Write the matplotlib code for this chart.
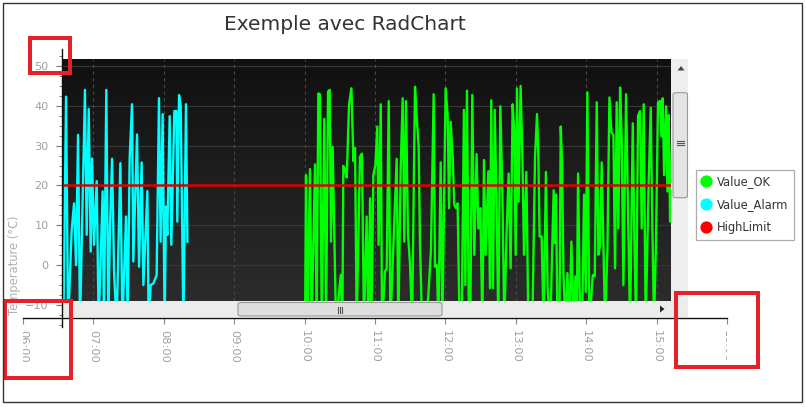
import numpy as np
import matplotlib
matplotlib.use('Agg')
import matplotlib.pyplot as plt
from matplotlib.colors import LinearSegmentedColormap
from matplotlib.patches import Rectangle, FancyBboxPatch, Polygon
from matplotlib.lines import Line2D
from matplotlib.ticker import MultipleLocator
from matplotlib.transforms import Bbox, TransformedBbox

# data: minutes after 06:00 and temperature (degC)
alarm_min = [34.4, 36.7, 38.4, 41.5, 43.5, 45.2, 46.9, 48.6, 52.8, 54.3, 56.0, 57.7,
             58.8, 60.5, 62.8, 64.5, 67.9, 69.0, 71.0, 72.7, 74.2, 75.9, 77.6, 79.8,
             83.0, 84.7, 87.8, 89.2, 90.9, 92.9, 94.0, 97.2, 98.9, 101.1, 102.6, 106.0,
             107.1, 108.8, 111.1, 113.9, 115.9, 117.3, 119.0, 120.7, 121.9, 123.0, 125.0,
             126.4, 129.0, 130.7, 131.5, 133.0, 134.4, 136.7, 138.9, 140.1]
alarm_val = [-15, 42.3, -15, 8.8, 15.5, 0, 32.7, -15, 44, 7.6, 39.2, 3.4,
             26.8, 5.1, 21.1, -15, 18.5, -15, 44, -15, 10.1, 26.7, -1.6, -15,
             25.6, -15, 12.2, -15, 26.8, 40.4, 0.9, 32.8, -0.4, 25.8, -5, 18.6,
             -15, -5, -4.6, -2.5, 41.9, 5.9, 37.9, -15, 14.7, 7.6, 37.4,
             5.1, 38.7, 38.7, 10.9, 42.7, 40, -15, 40.4, 5.9]

ok_min = [240.4, 241.2, 242.4, 244.6, 246.0, 248.9, 250.3, 251.7, 253.1, 254.6, 256.8,
          258.3, 260.0, 261.4, 262.5, 263.9, 265.4, 266.8, 270.8, 272.2, 273.0, 274.5,
          275.9, 277.9, 279.9, 281.6, 283.0, 284.4, 287.2, 288.9, 290.6, 292.9, 294.3,
          295.8, 296.9, 298.6, 300.3, 302.0, 303.1, 304.9, 306.0, 308.5, 310.0, 311.7,
          313.1, 318.5, 319.9, 321.9, 323.6, 325.0, 326.4, 328.1, 329.9, 331.6, 334.1,
          335.5, 337.2, 338.4, 340.1, 342.6, 345.4, 347.7, 350.0, 351.1, 352.8, 354.0,
          356.0, 357.4, 360.2, 361.9, 363.1, 364.5, 366.2, 367.6, 369.0, 370.4, 372.1,
          373.9, 375.8, 377.0, 378.4, 379.8, 381.2, 382.9, 384.6, 386.6, 388.1, 389.8,
          391.5, 392.9, 394.3, 396.6, 398.0, 399.1, 400.6, 402.0, 403.4, 405.1, 406.8,
          408.5, 410.2, 412.2, 413.9, 415.6, 417.3, 418.7, 419.9, 421.0, 422.4, 424.1,
          425.6, 427.0, 429.0, 430.7, 434.1, 436.4, 438.1, 439.2, 440.3, 442.0, 443.7,
          445.7, 447.1, 449.4, 452.3, 453.2, 454.3, 455.5, 457.2, 458.3, 459.4, 460.6,
          462.3, 464.0, 465.7, 467.4, 469.1, 470.8, 471.9, 473.1, 474.8, 476.5, 478.2,
          479.6, 481.0, 482.7, 485.6, 487.3, 489.0, 490.4, 491.8, 493.2, 494.7, 496.1,
          498.1, 499.8, 501.5, 503.2, 504.6, 506.0, 507.4, 508.9, 510.3, 511.7, 514.0,
          515.7, 517.4, 519.7, 521.1, 522.5, 524.2, 525.9, 527.3, 529.0, 530.7, 533.3,
          535.0, 536.1, 537.8, 539.5, 541.2, 542.9, 544.1, 545.2, 546.4, 548.1, 549.2,
          550.3, 551.5, 553.2]
ok_val = [-15, 22.6, -15, 24.1, -15, 25.3, -15, 43.1, 42.9, -15, 36.7,
          -15, 43.6, 44, 5.9, 29.7, 5.9, -15, -2.5, -15, 24.9, 24,
          22, 40.4, 44.4, 26.1, 29.4, -15, 27.2, 28, -15, 12.2, -15,
          16.8, -15, 22.6, 25.1, 34.8, 5.1, 40.4, -15, -1.6, -0.8, 41.2,
          -15, 26.7, -15, 24.3, 41.9, 5.9, 41.2, 8, 0, -15, 44.8,
          37.3, 29.7, 5.1, -15, -15, -8, 3.8, 42.9, -0.4, 0, -15,
          25.8, -15, 44.4, 37.7, 14.3, 36, 27.2, 15.1, 14.3, 15.5, -15,
          -15, 39, -5, 43.8, -7.5, -15, 42.7, 2.6, 27.9, 9.2, 14.3,
          -15, 26.4, 2.6, 23.6, -5.8, 41.4, -5.8, 39, 19.3, -15, 39.9,
          19.3, -15, 8.4, 23, -0.8, 40.4, 33.7, 2.6, 44.4, 15.9, 45,
          27.6, 2.6, 23.4, -15, -15, 27.2, 37.9, 27.8, 7.2, 7.2, -15,
          23.4, -5.8, -15, 18.8, 5.5, 17.7, -15, -15, 34.8, 26.2, -2,
          -15, -2, -15, 5.9, -15, -2.8, -15, 23, -15, -15, 17.7,
          -6.7, 43.4, -15, -2.5, -2.8, 40.9, 2.6, 4.7, 25.8, 4.3, -15,
          3.8, 42.1, 33.4, 32.7, -0.8, 40.9, 9.2, 44.6, 31.5, -5, 42.9,
          12.6, -15, 35.6, 5.9, -15, 37.5, 38.7, 9.2, 40.4, -15, 21.3,
          39.5, 15.1, -15, 5.9, 40.9, 41.2, 32.3, 41.9, 22.6, 39.9, 18.5,
          37.7, 10.9, 30]

high_limit = 20
hours = list(range(6, 17))
hour_labels = [f'{h:02d}:00' for h in hours]

W, H = 806, 407


def fb(x0, y0, x1, y1):
    # pixel box (top-left origin) -> figure fraction [left, bottom, width, height]
    return [x0 / W, 1 - y1 / H, (x1 - x0) / W, (y1 - y0) / H]


fig = plt.figure(figsize=(W / 100, H / 100), dpi=100)
fig.patch.set_facecolor('white')

# dark plot area
pa = fig.add_axes(fb(62, 59, 670.5, 301))
bg = LinearSegmentedColormap.from_list('bg', ['#101010', '#2c2c2c'])
pa.imshow(np.linspace(0, 1, 256).reshape(-1, 1), extent=(0, 1, 0, 1),
          transform=pa.transAxes, aspect='auto', cmap=bg, zorder=0)
for v in range(0, 60, 10):
    pa.axhline(v, color='#383838', lw=0.8, zorder=1)
for h in hours:
    pa.axvline(h, color='#484848', lw=0.8, ls=(0, (3, 3)), zorder=1)

ta = [6 + m / 60 for m in alarm_min]
to = [6 + m / 60 for m in ok_min]
pa.plot(ta, alarm_val, color='#00ffff', lw=1.7, zorder=2)
pa.plot(to, ok_val, color='#00ff00', lw=1.7, zorder=2)
pa.axhline(high_limit, color='#e00000', lw=1.8, zorder=3)
pa.set_xlim(6 + 39 / 70.4, 6 + 647.5 / 70.4)
pa.set_ylim(50 - 235 / 3.983, 50 + 7 / 3.983)
pa.set_xticks([])
pa.set_yticks([])
for s in pa.spines.values():
    s.set_visible(False)

# scrollbars
fig.patches.append(Rectangle((62 / W, 1 - 317 / H), 626 / W, 16 / H,
                             transform=fig.transFigure, fc='#ececec', ec='none', zorder=1))
fig.patches.append(Rectangle((671 / W, 1 - 301 / H), 17 / W, 242 / H,
                             transform=fig.transFigure, fc='#eeeeee', ec='none', zorder=1))
fig.patches.append(FancyBboxPatch((238 / W, 1 - 316 / H), 204 / W, 13.5 / H,
                                  boxstyle='round,pad=0,rounding_size=0.004',
                                  transform=fig.transFigure, fc='#dedede', ec='#9a9a9a',
                                  lw=0.8, zorder=1))
fig.patches.append(FancyBboxPatch((673 / W, 1 - 197.7 / H), 14.5 / W, 105 / H,
                                  boxstyle='round,pad=0,rounding_size=0.004',
                                  transform=fig.transFigure, fc='#e4e4e4', ec='#9a9a9a',
                                  lw=0.8, zorder=1))
for dx in (-2, 0, 2):
    fig.add_artist(Line2D([(340 + dx) / W] * 2, [1 - 306.5 / H, 1 - 312.5 / H],
                          color='#555555', lw=0.8, zorder=1.5))
for dy in (-2, 0, 2):
    fig.add_artist(Line2D([677 / W, 684 / W], [1 - (143 + dy) / H] * 2,
                          color='#555555', lw=0.8, zorder=1.5))
fig.patches.append(Polygon([[660 / W, 1 - 305.5 / H], [660 / W, 1 - 312.5 / H],
                            [664.5 / W, 1 - 309 / H]], closed=True,
                           transform=fig.transFigure, fc='#222222', ec='none', zorder=1))
fig.patches.append(Polygon([[677.5 / W, 1 - 70.5 / H], [684.5 / W, 1 - 70.5 / H],
                            [681 / W, 1 - 66 / H]], closed=True,
                           transform=fig.transFigure, fc='#444444', ec='none', zorder=1))

# axis with the ticks
ax = fig.add_axes(fb(23, 49, 727, 327), zorder=2)
ax.patch.set_visible(False)
ax.set_xlim(6, 16)
ax.set_ylim(-10 - 22 / 3.983, 50 + 17 / 3.983)
ax.spines['top'].set_visible(False)
ax.spines['right'].set_visible(False)
ax.spines['left'].set_position(('data', 6 + 39 / 70.4))
ax.spines['bottom'].set_position(('data', -10 - 13 / 3.983))
for s in ('left', 'bottom'):
    ax.spines[s].set_color('#111111')
    ax.spines[s].set_linewidth(1.0)
ax.set_yticks(range(-10, 60, 10))
ax.yaxis.set_minor_locator(MultipleLocator(2.5))
ax.set_xticks(hours)
ax.set_xticklabels(hour_labels)
ax.tick_params(axis='y', which='major', length=4, width=0.8, color='#777777',
               labelcolor='#a0a0a0', labelsize=8.1, pad=5.5)
ax.tick_params(axis='y', which='minor', length=2, width=0.7, color='#777777')
ax.tick_params(axis='x', length=4.5, width=0.8, color='#888888', labelcolor='#a0a0a0',
               labelsize=8.2, pad=4.5, labelrotation=-90)

fig.text(345 / W, 1 - 25 / H, 'Exemple avec RadChart', ha='center', va='center',
         fontsize=14.5, color='#333333')
fig.text(15 / W, 1 - 265 / H, 'Temperature (°C)', rotation=90, ha='center',
         va='center', fontsize=8.3, color='#b0b0b0')

handles = [Line2D([], [], marker='o', ls='none', ms=7.8, color=c)
           for c in ('#00ff00', '#00ffff', '#ff0000')]
leg = fig.legend(handles, ['Value_OK', 'Value_Alarm', 'HighLimit'],
                 loc='upper left', bbox_to_anchor=(696 / W, 1 - 169.5 / H),
                 fontsize=8.3, frameon=True, fancybox=False, borderaxespad=0,
                 handlelength=0.8, handletextpad=0.5, borderpad=0.5, labelspacing=0.85,
                 labelcolor='#333333')
leg.get_frame().set_edgecolor('#999999')
leg.get_frame().set_linewidth(0.9)

# red highlight boxes and border
for x0, y0, x1, y1 in [(30.3, 38, 70, 73), (5.3, 301, 70.7, 378), (676, 293, 758, 367)]:
    fig.patches.append(Rectangle((x0 / W, 1 - y1 / H), (x1 - x0) / W, (y1 - y0) / H,
                                 transform=fig.transFigure, fill=False, ec='#e8202a',
                                 lw=2.9, zorder=5))
fig.patches.append(Rectangle((3 / W, 1 - 402 / H), 799 / W, 399 / H,
                             transform=fig.transFigure, fill=False, ec='#333333',
                             lw=1, zorder=5))

# end labels are cut at the ends of the time axis, as in the reference
fig.canvas.draw()
clip = TransformedBbox(Bbox([[23 / W, 0], [727 / W, 1]]), fig.transFigure)
for lab in ax.xaxis.get_majorticklabels():
    lab.set_clip_on(True)
    lab.set_clip_box(clip)

fig.savefig('out.png', dpi=100)
